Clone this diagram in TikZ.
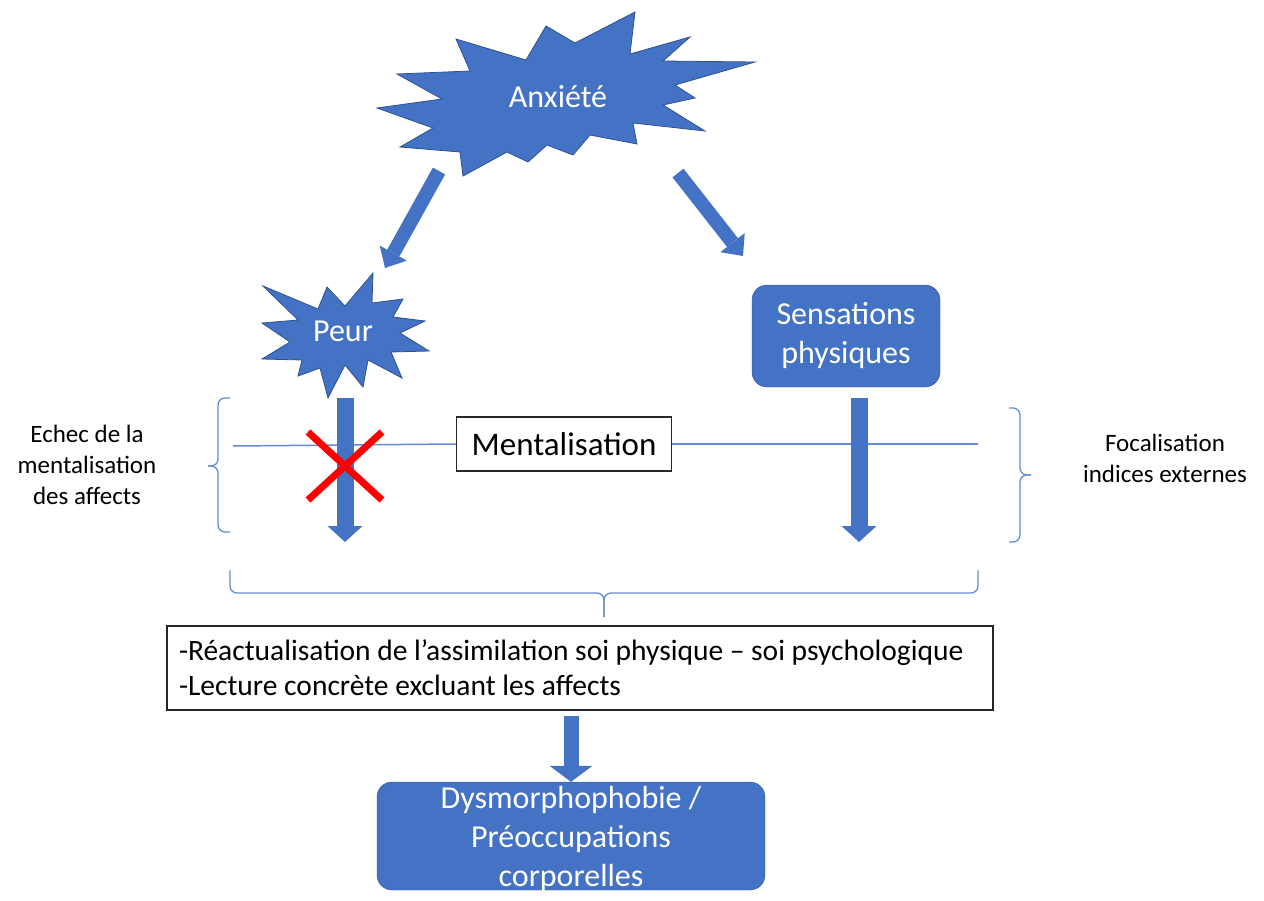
\documentclass[tikz,border=0pt]{standalone}
\usepackage{fontspec}
\setmainfont{Carlito}
\usepackage{tikz}
\definecolor{officeblue}{RGB}{68,114,196}
\definecolor{darkblue}{RGB}{47,82,143}
\definecolor{lineblue}{RGB}{100,140,214}
\usetikzlibrary{arrows.meta, positioning}
\tikzstyle{block} = [draw=darkblue, fill=officeblue, rounded corners=15pt, text=white, align=center, font=\fontsize{32}{39}\selectfont]
\tikzstyle{burst} = [draw=darkblue, fill=officeblue, line width=0.8pt]
\tikzstyle{bursttext} = [text=white, font=\fontsize{32}{39}\selectfont]
\tikzstyle{textbox} = [draw=black!85, line width=1.5pt, fill=white]
\tikzstyle{sidetext} = [align=center, font=\fontsize{25}{31}\selectfont]
\tikzstyle{arrow} = [draw=officeblue, line width=17pt, -{Triangle[length=16pt, width=35pt, line width'=0pt]}]
\tikzstyle{brc} = [draw=lineblue, line width=1.3pt, rounded corners=7pt]

\begin{document}
\begin{tikzpicture}[x=1pt, y=-1pt]
    \useasboundingbox (0,0) rectangle (1264,900);

    % Bursts
    \draw [burst] (377,108) -- (442,99) -- (397,74) -- (470,71) -- (456,39) -- (526,60)
        -- (546,26) -- (575,43) -- (635,12) -- (630,54) -- (690,37) -- (663,61)
        -- (755,62) -- (675,85) -- (695,98) -- (663,105) -- (705,131) -- (633,123)
        -- (637,144) -- (590,135) -- (573,155) -- (547,145) -- (528,162) -- (507,152)
        -- (463,176) -- (460,152) -- (400,147) -- (433,128) -- cycle;
    \draw [burst] (263,286) -- (318,309) -- (327,287) -- (345,306) -- (373,273) -- (372,303)
        -- (403,299) -- (393,317) -- (425,321) -- (400,333) -- (429,351) -- (391,352)
        -- (402,378) -- (368,360) -- (363,387) -- (345,365) -- (328,398) -- (320,368)
        -- (298,376) -- (302,360) -- (262,359) -- (290,342) -- (262,323) -- (298,320) -- cycle;

    % Place the nodes
    \node [bursttext] (anx) at (558,97) {Anxiété};
    \node [bursttext] (peur) at (343,331) {Peur};
    \node [block, minimum width=188pt, minimum height=102pt] (sens) at (846,336) {Sensations\\physiques};
    \node [textbox, font=\fontsize{33}{39}\selectfont, minimum width=215pt, minimum height=54pt] (ment) at (564,444) {Mentalisation};
    \node [sidetext] (echec) at (87,465) {Echec de la\\mentalisation\\des affects};
    \node [sidetext] (focal) at (1165,458) {Focalisation\\indices externes};
    \node [textbox, align=flush left, font=\fontsize{29.5}{35}\selectfont, minimum width=826pt, minimum height=84pt, text width=802pt] (reac) at (580,668)
        {-Réactualisation de l’assimilation soi physique – soi psychologique\\-Lecture concrète excluant les affects};
    \node [block, minimum width=388pt, minimum height=108pt, text depth=0pt] (dysmo) at (571,836) {Dysmorphophobie /\\Préoccupations\\corporelles};

    % Arrow ends
    \coordinate (anxL) at (439,171);
    \coordinate (peurIn) at (385,268);
    \coordinate (anxR) at (678,173);
    \coordinate (sensIn) at (743,256);
    \coordinate (peurOut) at (345,398);
    \coordinate (peurEnd) at (345,542);
    \coordinate (sensOut) at (859,398);
    \coordinate (sensEnd) at (859,542);
    \coordinate (mentL) at (233,446);
    \coordinate (mentR) at (978,444);

    % Connect the nodes
    \draw [draw=lineblue, line width=1.5pt] (mentL) -- (ment.west);
    \draw [draw=lineblue, line width=1.5pt] (ment.east) -- (mentR);
    \draw [arrow, line width=14pt, -{Triangle[length=17pt, width=31pt, line width'=0pt]}] (anxL) -- (peurIn);
    \draw [arrow, line width=14pt, -{Triangle[length=17pt, width=31pt, line width'=0pt]}] (anxR) -- (sensIn);
    \draw [arrow] (peurOut) -- (peurEnd);
    \draw [arrow] (sensOut) -- (sensEnd);
    \draw [arrow, line width=15pt, -{Triangle[length=16pt, width=43pt, line width'=0pt]}] (reac.south -| dysmo) ++(0,5) -- (dysmo.north);

    % Red cross
    \draw [red, line width=7pt] (308,432) -- (382,500);
    \draw [red, line width=7pt] (382,432) -- (308,500);

    % Braces
    \draw [brc] (230,398) -| (218,466) -- (208,466);
    \draw [brc] (230,532) -| (218,466) -- (208,466);
    \draw [brc] (1009,408) -| (1020,475) -- (1031,475);
    \draw [brc] (1009,542) -| (1020,475) -- (1031,475);
    \draw [brc] (230,570) |- (604,593) -- (604,617);
    \draw [brc] (978,570) |- (604,593) -- (604,617);
\end{tikzpicture}
\end{document}
